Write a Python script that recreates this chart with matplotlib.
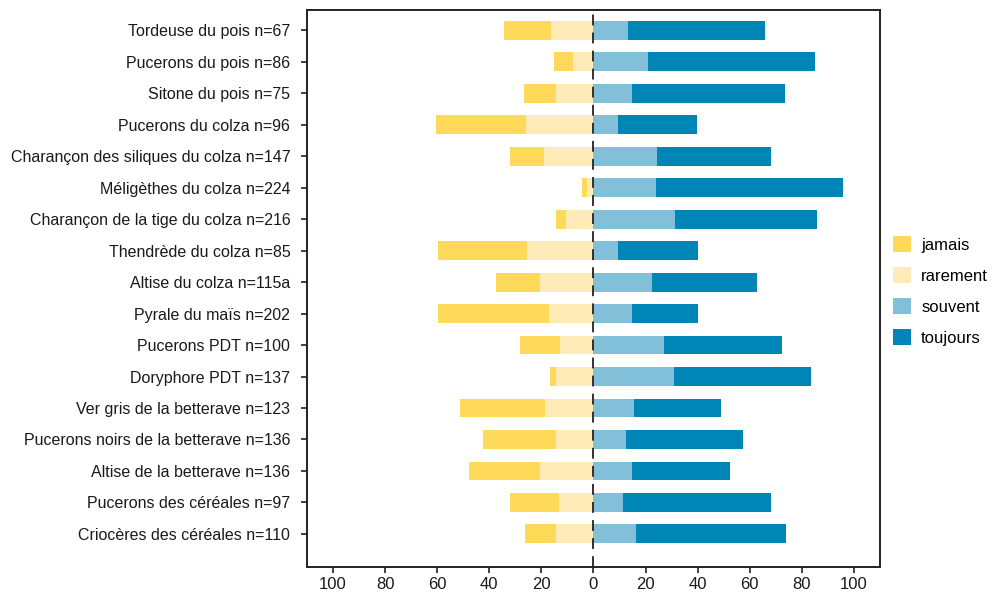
import matplotlib
matplotlib.use("Agg")
import matplotlib.pyplot as plt
from matplotlib.patches import Patch
import numpy as np

plt.rcParams['font.family'] = ['Liberation Sans', 'DejaVu Sans']

# categories, top to bottom
labels = [
    "Tordeuse du pois n=67",
    "Pucerons du pois n=86",
    "Sitone du pois n=75",
    "Pucerons du colza n=96",
    "Charançon des siliques du colza n=147",
    "Méligèthes du colza n=224",
    "Charançon de la tige du colza n=216",
    "Thendrède du colza n=85",
    "Altise du colza n=115a",
    "Pyrale du maïs n=202",
    "Pucerons PDT n=100",
    "Doryphore PDT n=137",
    "Ver gris de la betterave n=123",
    "Pucerons noirs de la betterave n=136",
    "Altise de la betterave n=136",
    "Pucerons des céréales n=97",
    "Criocères des céréales n=110",
]

# shares (%) per answer
jamais   = [18.0, 7.2, 12.2, 34.5, 13.0, 2.0, 3.8, 34.2, 16.9, 42.6, 15.3, 2.3, 32.6, 28.0, 27.3, 18.7, 11.9]
rarement = [16.2, 7.8, 14.3, 25.8, 18.9, 2.4, 10.5, 25.4, 20.4, 17.0, 12.8, 14.3, 18.6, 14.3, 20.4, 13.2, 14.3]
souvent  = [13.3, 21.0, 14.9, 9.5, 24.4, 24.0, 31.3, 9.5, 22.6, 14.9, 27.1, 30.9, 15.6, 12.5, 14.9, 11.3, 16.3]
toujours = [52.5, 64.0, 58.6, 30.2, 43.7, 71.7, 54.5, 30.6, 40.1, 25.2, 45.2, 52.5, 33.3, 44.9, 37.4, 56.8, 57.6]

legend_names = ["jamais", "rarement", "souvent", "toujours"]
colors = ["#FFD95A", "#FFEBB7", "#82BFD8", "#0086B6"]

y = np.arange(len(labels))
jam = np.array(jamais)
rar = np.array(rarement)
sou = np.array(souvent)
tou = np.array(toujours)

fig = plt.figure(figsize=(9.92, 5.94), dpi=100)
ax = fig.add_axes([0.3095, 0.0455, 0.5775, 0.937])

h = 0.6
ax.barh(y, -rar, height=h, color=colors[1], zorder=2)
ax.barh(y, -jam, left=-rar, height=h, color=colors[0], zorder=2)
ax.barh(y, sou, height=h, color=colors[2], zorder=2)
ax.barh(y, tou, left=sou, height=h, color=colors[3], zorder=2)

ax.axvline(0, color="#222222", lw=1.3, ls=(0, (6, 4)), zorder=3)

ax.set_xlim(-110, 110)
ax.set_ylim(len(labels) - 1 + 1.05, -0.63)
ticks = np.arange(-100, 101, 20)
ax.set_xticks(ticks)
ax.set_xticklabels([str(abs(t)) for t in ticks], fontsize=12)
ax.set_yticks(y)
ax.set_yticklabels(labels, fontsize=11.5)
ax.tick_params(axis="both", length=4, width=1.2, color="#222222", labelcolor="#1a1a1a")
ax.tick_params(axis="y", pad=8)

for s in ax.spines.values():
    s.set_linewidth(1.4)
    s.set_color("#222222")

handles = [Patch(facecolor=c, edgecolor="none") for c in colors]
fig.legend(handles, legend_names, loc="center left", bbox_to_anchor=(0.9, 0.51),
           frameon=False, fontsize=12, handlelength=1.1, handleheight=1.1,
           handletextpad=0.6, labelspacing=0.85, borderaxespad=0, borderpad=0)

fig.savefig("out.png", dpi=100)
